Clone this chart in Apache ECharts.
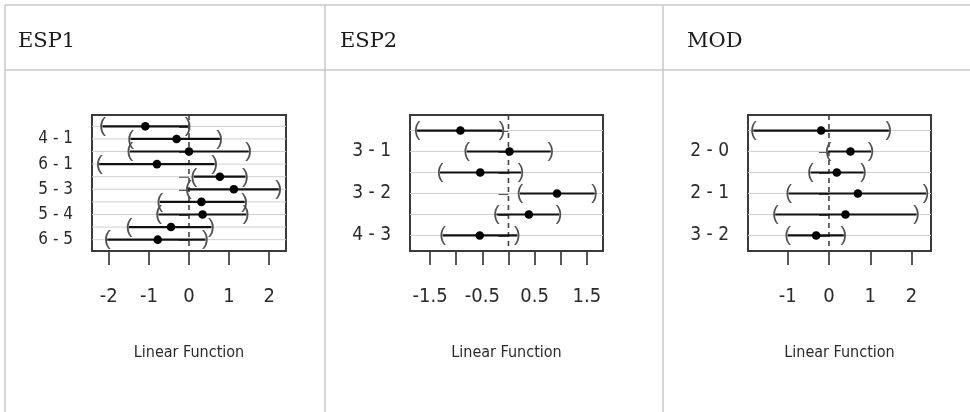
<!DOCTYPE html>
<html>
<head>
<meta charset="utf-8">
<script src="https://cdn.jsdelivr.net/npm/echarts@6/dist/echarts.min.js"></script>
<style>
html,body{margin:0;padding:0;background:#fff;}
#chart{width:970px;height:412px;}
</style>
</head>
<body>
<div id="chart"></div>
<script>
// ---------- data ----------
const panelTitles = ['ESP1', 'ESP2', 'MOD'];
const axisTitle = 'Linear Function';

const esp1Comparisons = ['3 - 1','4 - 1','5 - 1','6 - 1','4 - 3','5 - 3','6 - 3','5 - 4','6 - 4','6 - 5'];
const esp1Estimate = [-1.09, -0.31, 0.00, -0.80, 0.77, 1.12, 0.31, 0.34, -0.45, -0.78];
const esp1Lower    = [-2.16, -1.46, -1.48, -2.24, 0.12, -0.02, -0.73, -0.76, -1.50, -2.04];
const esp1Upper    = [-0.02, 0.77, 1.49, 0.64, 1.41, 2.24, 1.39, 1.43, 0.56, 0.41];
const esp1XRange = [-2.42, 2.42];
const esp1Ticks = [-2, -1, 0, 1, 2];
const esp1TickLabels = [-2, -1, 0, 1, 2];

const esp2Comparisons = ['2 - 1','3 - 1','4 - 1','3 - 2','4 - 2','4 - 3'];
const esp2Estimate = [-0.92, 0.02, -0.54, 0.93, 0.39, -0.55];
const esp2Lower    = [-1.75, -0.80, -1.31, 0.22, -0.23, -1.26];
const esp2Upper    = [-0.12, 0.81, 0.24, 1.65, 0.97, 0.17];
const esp2XRange = [-1.885, 1.81];
const esp2Ticks = [-1.5, -1, -0.5, 0, 0.5, 1, 1.5];
const esp2TickLabels = [-1.5, -0.5, 0.5, 1.5];

const modComparisons = ['1 - 0','2 - 0','3 - 0','2 - 1','3 - 1','3 - 2'];
const modEstimate = [-0.19, 0.52, 0.19, 0.70, 0.40, -0.31];
const modLower    = [-1.83, -0.02, -0.45, -0.98, -1.30, -1.00];
const modUpper    = [1.45, 1.02, 0.84, 2.35, 2.12, 0.36];
const modXRange = [-1.96, 2.47];
const modTicks = [-1, 0, 1, 2];
const modTickLabels = [-1, 0, 1, 2];

// ---------- font detection ----------
function pickFont(list) {
  const ctx = document.createElement('canvas').getContext('2d');
  const s = 'Linear Function 0123456789 -.()';
  for (const f of list) {
    ctx.font = '40px monospace'; const a = ctx.measureText(s).width;
    ctx.font = '40px "' + f + '", monospace'; const b = ctx.measureText(s).width;
    ctx.font = '40px serif'; const c = ctx.measureText(s).width;
    ctx.font = '40px "' + f + '", serif'; const d = ctx.measureText(s).width;
    if (a !== b || c !== d) return f;
  }
  return 'sans-serif';
}
const narrow = pickFont(['Liberation Sans Narrow', 'Arial Narrow', 'DejaVu Sans Condensed', 'Roboto Condensed', 'Liberation Sans']);
const sizeK = (narrow === 'Liberation Sans Narrow' || narrow === 'Arial Narrow') ? 1 : (narrow === 'Liberation Sans' ? 0.85 : 0.9);
const serifFont = pickFont(['DejaVu Serif', 'Liberation Serif']);

// ---------- layout ----------
const panels = [
  { cmp: esp1Comparisons, est: esp1Estimate, lo: esp1Lower, hi: esp1Upper, xr: esp1XRange, ticks: esp1Ticks, labels: esp1TickLabels,
    grid: { left: 92, top: 115, width: 194, height: 136 }, ylab: 19 },
  { cmp: esp2Comparisons, est: esp2Estimate, lo: esp2Lower, hi: esp2Upper, xr: esp2XRange, ticks: esp2Ticks, labels: esp2TickLabels,
    grid: { left: 410, top: 115, width: 193, height: 136 }, ylab: 21 },
  { cmp: modComparisons, est: modEstimate, lo: modLower, hi: modUpper, xr: modXRange, ticks: modTicks, labels: modTickLabels,
    grid: { left: 748, top: 115, width: 183, height: 136 }, ylab: 21 }
];

const grids = [], xAxes = [], yAxes = [], series = [];
const plotText = '#2a2a2a';

panels.forEach((p, i) => {
  const n = p.cmp.length;
  const yMin = 0.5 - 0.04 * n, yMax = n + 0.5 + 0.04 * n;
  const rows = p.cmp.map((_, k) => k + 1);
  grids.push(Object.assign({ show: true, borderColor: '#3a3a3a', borderWidth: 2, backgroundColor: '#fff' }, p.grid));
  xAxes.push({
    type: 'value', gridIndex: i, min: p.xr[0], max: p.xr[1],
    axisLine: { show: false }, splitLine: { show: false },
    axisTick: { show: true, customValues: p.ticks, length: 14, lineStyle: { color: '#3a3a3a', width: 1.7 } },
    axisLabel: { show: true, customValues: p.labels, margin: 46, verticalAlign: 'middle',
      color: plotText, fontFamily: narrow, fontSize: Math.round(22 * sizeK) },
    name: axisTitle, nameLocation: 'middle', nameGap: 102,
    nameTextStyle: { color: plotText, fontFamily: narrow, fontSize: Math.round(18 * sizeK), verticalAlign: 'middle' }
  });
  yAxes.push({
    type: 'value', gridIndex: i, min: yMin, max: yMax, inverse: true,
    axisLine: { show: false }, splitLine: { show: false },
    axisTick: { show: true, customValues: rows, length: 10, lineStyle: { color: '#3a3a3a', width: 1.7 } },
    axisLabel: { show: true, customValues: rows.filter(r => r % 2 === 0), margin: 19,
      formatter: v => p.cmp[Math.round(v) - 1], color: plotText, fontFamily: narrow, fontSize: Math.round(p.ylab * sizeK) }
  });
  // gray horizontal reference lines
  series.push({
    type: 'custom', xAxisIndex: i, yAxisIndex: i, z: 1, silent: true,
    data: rows.map(r => [r]),
    encode: { y: 0 },
    renderItem: (params, api) => {
      const a = api.coord([p.xr[0], api.value(0)]);
      const b = api.coord([p.xr[1], api.value(0)]);
      return { type: 'line', shape: { x1: a[0], y1: a[1], x2: b[0], y2: b[1] },
        style: { stroke: '#d0d0d0', lineWidth: 1 } };
    }
  });
  // dashed zero line
  series.push({
    type: 'custom', xAxisIndex: i, yAxisIndex: i, z: 2, silent: true,
    data: [[0]],
    encode: { x: 0 },
    renderItem: (params, api) => {
      const a = api.coord([api.value(0), yMin]);
      const b = api.coord([api.value(0), yMax]);
      return { type: 'line', shape: { x1: a[0], y1: a[1], x2: b[0], y2: b[1] },
        style: { stroke: '#444', lineWidth: 1.6, lineDash: [5, 4] } };
    }
  });
  // confidence intervals
  const data = rows.map((r, k) => [r, p.lo[k], p.est[k], p.hi[k]]);
  series.push({
    type: 'custom', xAxisIndex: i, yAxisIndex: i, z: 3, silent: true,
    data: data,
    encode: { y: 0, x: [1, 2, 3] },
    renderItem: (params, api) => {
      const y = api.value(0);
      const pl = api.coord([api.value(1), y]);
      const pe = api.coord([api.value(2), y]);
      const ph = api.coord([api.value(3), y]);
      const bracketFont = (i === 0 ? 21 : 20) + 'px "Liberation Sans", sans-serif';
      return { type: 'group', children: [
        { type: 'line', shape: { x1: pl[0], y1: pl[1], x2: ph[0], y2: ph[1] }, style: { stroke: '#111', lineWidth: 2.2 } },
        { type: 'text', x: pl[0], y: pl[1], style: { text: '(', fill: '#505050', font: bracketFont, align: 'center', verticalAlign: 'middle' } },
        { type: 'text', x: ph[0], y: ph[1], style: { text: ')', fill: '#505050', font: bracketFont, align: 'center', verticalAlign: 'middle' } },
        { type: 'circle', shape: { cx: pe[0], cy: pe[1], r: 4.3 }, style: { fill: '#000' } }
      ] };
    }
  });
});

// ---------- table frame + headers ----------
const border = '#c9c9c9';
const graphic = [
  { type: 'line', shape: { x1: 5, y1: 5, x2: 970, y2: 5 }, style: { stroke: border, lineWidth: 1.5 } },
  { type: 'line', shape: { x1: 5, y1: 70, x2: 970, y2: 70 }, style: { stroke: border, lineWidth: 1.5 } },
  { type: 'line', shape: { x1: 5, y1: 5, x2: 5, y2: 412 }, style: { stroke: border, lineWidth: 1.5 } },
  { type: 'line', shape: { x1: 325, y1: 5, x2: 325, y2: 412 }, style: { stroke: border, lineWidth: 1.5 } },
  { type: 'line', shape: { x1: 663, y1: 5, x2: 663, y2: 412 }, style: { stroke: border, lineWidth: 1.5 } }
];
const headerX = [18, 340, 687];
panelTitles.forEach((t, i) => {
  graphic.push({ type: 'text', x: headerX[i], y: 42,
    style: { text: t, fill: '#1a1a1a', font: '21px "' + serifFont + '", serif', align: 'left', verticalAlign: 'middle' } });
});

const chart = echarts.init(document.getElementById('chart'), null, { renderer: 'canvas' });
chart.setOption({
  animation: false,
  backgroundColor: '#fff',
  grid: grids, xAxis: xAxes, yAxis: yAxes, series: series, graphic: graphic
});
</script>
</body>
</html>
